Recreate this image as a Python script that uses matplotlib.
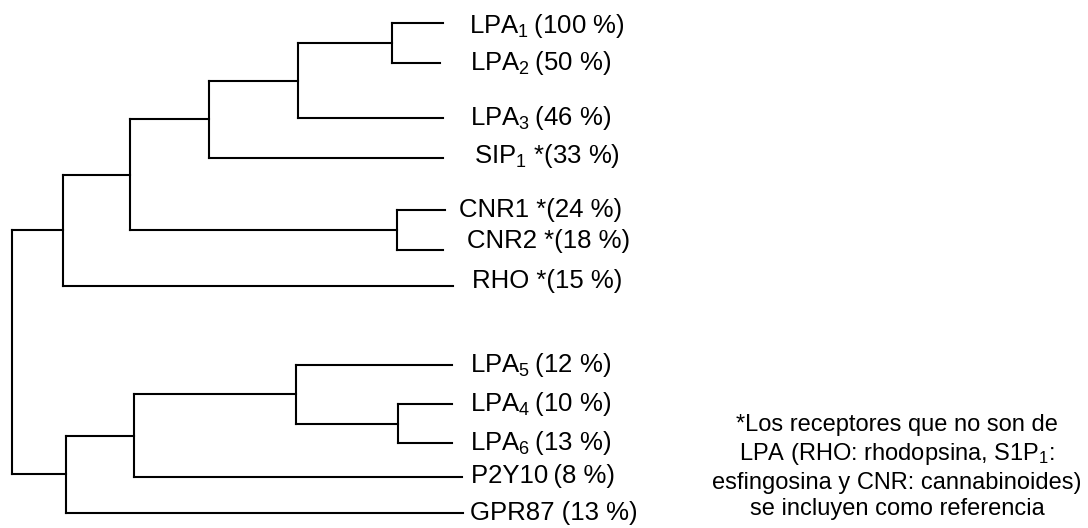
import matplotlib.pyplot as plt

plt.rcParams['font.family'] = ['Liberation Sans', 'DejaVu Sans']
plt.rcParams['mathtext.fontset'] = 'custom'
plt.rcParams['mathtext.rm'] = 'Liberation Sans'
plt.rcParams['mathtext.default'] = 'regular'

# leaves, top to bottom
names = ['LPA$_1$', 'LPA$_2$', 'LPA$_3$', 'SIP$_1$ ', 'CNR1 ', 'CNR2 ', 'RHO ',
         'LPA$_5$', 'LPA$_4$', 'LPA$_6$', 'P2Y10', 'GPR87 ']
identity = [100, 50, 46, 33, 24, 18, 15, 12, 10, 13, 8, 13]
non_lpa = [False, False, False, True, True, True, True,
           False, False, False, False, False]

# tree: leaf rows, tip depths, and merges (child a, child b, node depth)
leaf_rows = [23, 63, 118, 158, 210, 250, 286, 365, 404, 443, 477, 513]
leaf_depth = [443, 440, 443, 443, 445, 443, 453, 452, 452, 452, 462, 463]
merges = [(0, 1, 392), (12, 2, 298), (13, 3, 209), (4, 5, 397),
          (14, 15, 130), (16, 6, 63), (8, 9, 398), (7, 18, 296),
          (19, 10, 134), (20, 11, 66), (17, 21, 12)]

note = ('*Los receptores que no son de\n'
        'LPA (RHO: rhodopsina, S1P$_1$:\n'
        'esfingosina y CNR: cannabinoides)\n'
        'se incluyen como referencia')

fig = plt.figure(figsize=(10.88, 5.28), dpi=100)
ax = fig.add_axes([0, 0, 1, 1])
ax.set_xlim(0, 1088)
ax.set_ylim(528, 0)
ax.axis('off')

node_x = list(leaf_depth)
node_y = list(leaf_rows)
for a, b, x in merges:
    ax.plot([x, x], [node_y[a], node_y[b]], color='black', lw=1.5)
    for c in (a, b):
        ax.plot([x, node_x[c]], [node_y[c], node_y[c]], color='black', lw=1.5)
    node_x.append(x)
    node_y.append((node_y[a] + node_y[b]) / 2)

label_x = 469
label_shift = {0: (0, 10), 3: (5, 5), 4: (-10, 7), 5: (-2, -2), 6: (3, 2),
               10: (2, 6)}
for i, name in enumerate(names):
    star = '*' if non_lpa[i] else ''
    dx, dy = label_shift.get(i, (1, 7))
    sep = '' if name.endswith(' ') else '\u2009'
    ax.text(label_x + dx, leaf_rows[i] + dy, f'{name}{sep}{star}({identity[i]} %)',
            fontsize=18.5, va='baseline', ha='left')

ax.text(897, 467, note, fontsize=17, ha='center', va='center', linespacing=1.27)

fig.savefig('out.png', dpi=100)
